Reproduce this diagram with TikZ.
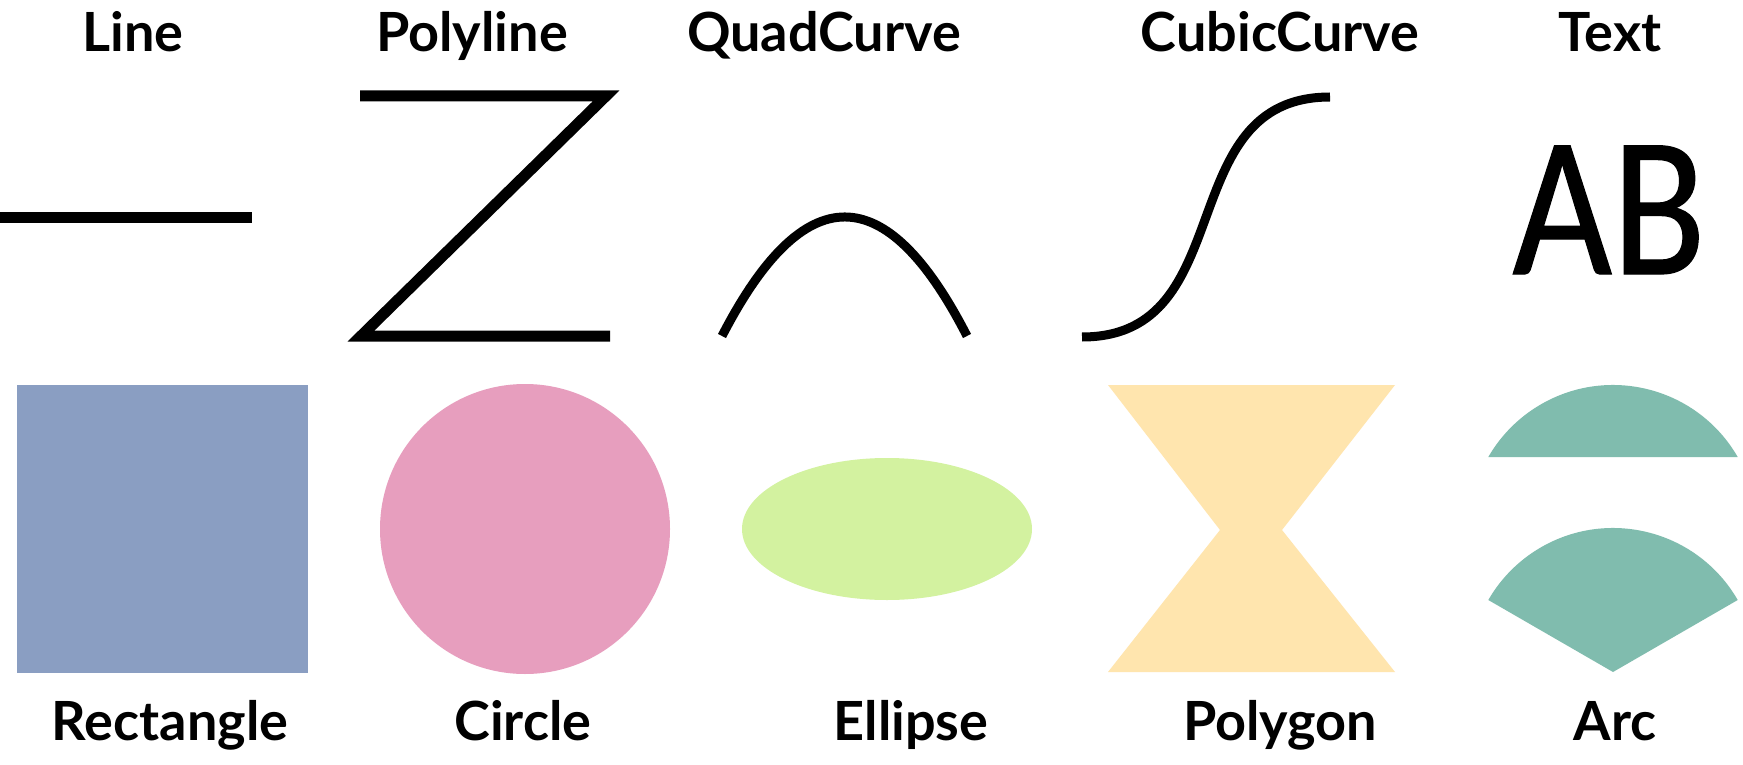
\documentclass[tikz,border=0pt]{standalone}
\usepackage{fontspec}
\newfontfamily\labelfont{Lato}
\newfontfamily\abfont[FakeStretch=0.86,FakeBold=0.6]{Carlito}
\definecolor{rectblue}{RGB}{138,158,194}
\definecolor{circpink}{RGB}{231,158,190}
\definecolor{ellgreen}{RGB}{211,242,160}
\definecolor{polyyellow}{RGB}{255,229,174}
\definecolor{arcteal}{RGB}{128,188,174}
\begin{document}
\begin{tikzpicture}[x=1pt,y=1pt,
  lbl/.style={anchor=base,inner sep=0pt,font=\labelfont\bfseries\fontsize{54}{60}\selectfont},
  stroke/.style={draw=black,line width=#1},
  stroke/.default=10pt]
\useasboundingbox (0,0) rectangle (1743,-765);
\fill[white] (0,0) rectangle (1743,-765);

% top labels
\node[lbl] (lLine) at (133,-52) {Line};
\node[lbl] (lPoly) at (472,-52) {Polyline};
\node[lbl] (lQuad) at (824,-52) {QuadCurve};
\node[lbl] (lCubic) at (1280,-52) {CubicCurve};
\node[lbl] (lText) at (1610,-52) {Text};

% bottom labels
\node[lbl] (lRect) at (170,-740) {Rectangle};
\node[lbl] (lCirc) at (523,-740) {Circle};
\node[lbl] (lEll) at (911,-740) {Ellipse};
\node[lbl] (lPolyg) at (1280,-740) {Polygon};
\node[lbl] (lArc) at (1615,-740) {Arc};

% line
\draw[stroke=11pt] (0,-217) -- (252,-217);
% polyline
\draw[stroke=11pt,miter limit=10] (360,-96) -- (606,-96) -- (361,-336) -- (610,-336);
% quad curve
\draw[stroke=9pt] (722,-336) .. controls (804,-177.3) and (885.7,-177.3) .. (967,-336);
% cubic curve
\draw[stroke=9pt] (1082,-337) .. controls (1242,-337) and (1170,-97) .. (1330,-97);
% text
\node[anchor=base,inner sep=0pt,font=\abfont\fontsize{200}{240}\selectfont] (ab) at (1609,-274) {AB};

% filled shapes
\fill[rectblue] (17,-385) rectangle (308,-673);
\fill[circpink] (525,-529) circle[radius=145];
\fill[ellgreen] (887,-529) ellipse[x radius=145,y radius=71];
\fill[polyyellow] (1108,-385) -- (1395,-385) -- (1282,-530) -- (1395,-672) -- (1108,-672) -- (1220,-530) -- cycle;
\fill[arcteal] (1613,-529) ++(30:144) arc[start angle=30,end angle=150,radius=144] -- cycle;
\fill[arcteal] (1613,-672) -- ++(30:144) arc[start angle=30,end angle=150,radius=144] -- cycle;
\end{tikzpicture}
\end{document}
